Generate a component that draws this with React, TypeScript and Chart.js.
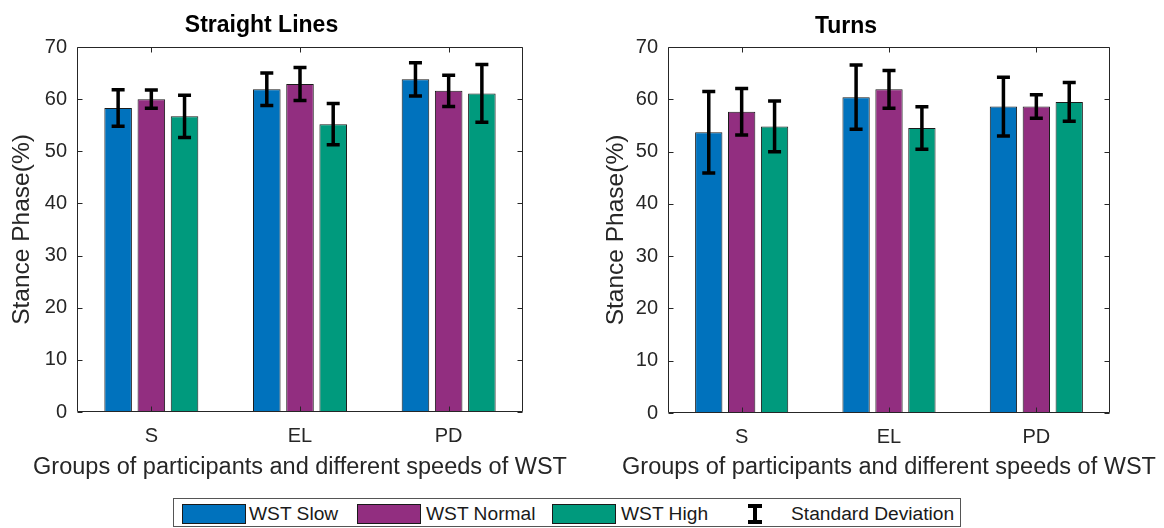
import React, { useEffect, useRef } from 'react';
import { Chart, registerables } from 'chart.js';

Chart.register(...registerables);

// ---------- data ----------
const categories = ['S', 'EL', 'PD'];
const seriesNames = ['WST Slow', 'WST Normal', 'WST High'];
const seriesColors = ['#0072BD', '#922E80', '#009A7D'];
const yTickValues = [0, 10, 20, 30, 40, 50, 60, 70];

const straightSlow = [58.3, 61.9, 63.8];
const straightNormal = [60.0, 62.9, 61.6];
const straightHigh = [56.7, 55.2, 61.1];
const straightSlowSD = [3.5, 3.1, 3.2];
const straightNormalSD = [1.75, 3.15, 3.0];
const straightHighSD = [4.05, 3.95, 5.55];

const turnsSlow = [53.7, 60.4, 58.6];
const turnsNormal = [57.6, 61.9, 58.6];
const turnsHigh = [54.8, 54.5, 59.5];
const turnsSlowSD = [7.8, 6.15, 5.6];
const turnsNormalSD = [4.45, 3.6, 2.25];
const turnsHighSD = [4.85, 4.05, 3.7];

const xAxisTitle = 'Groups of participants and different speeds of WST';
const yAxisTitle = 'Stance Phase(%)';
const legendSD = 'Standard Deviation';

// ---------- style ----------
const FONT = "'Liberation Sans', Arial, Helvetica, sans-serif";
const AXIS_COLOR = '#262626';
const CW = 582;
const CH = 490;
const X_TITLE_SIZE = 23.5;
const X_TITLE_CENTER_Y = 468;

const errorBarsAndFrame = {
  id: 'errorBarsAndFrame',
  afterDatasetsDraw(chart: any) {
    const { ctx, chartArea: a, scales } = chart;
    const ys = scales.y;
    const xs = scales.x;
    ctx.save();
    // error bars
    ctx.strokeStyle = '#000';
    ctx.lineWidth = 3.5;
    ctx.lineCap = 'butt';
    chart.data.datasets.forEach((ds: any, i: number) => {
      const meta = chart.getDatasetMeta(i);
      meta.data.forEach((bar: any, j: number) => {
        const v = ds.data[j];
        const sd = ds.sd[j];
        const x = bar.x;
        const yTop = ys.getPixelForValue(v + sd);
        const yBot = ys.getPixelForValue(v - sd);
        const half = 6.5;
        ctx.beginPath();
        ctx.moveTo(x, yTop);
        ctx.lineTo(x, yBot);
        ctx.moveTo(x - half, yTop);
        ctx.lineTo(x + half, yTop);
        ctx.moveTo(x - half, yBot);
        ctx.lineTo(x + half, yBot);
        ctx.stroke();
      });
    });
    // frame
    ctx.strokeStyle = AXIS_COLOR;
    ctx.lineWidth = 1;
    const l = Math.round(a.left) + 0.5;
    const r = Math.round(a.right) - 0.5;
    const t = Math.round(a.top) + 0.5;
    const b = Math.round(a.bottom) - 0.5;
    ctx.beginPath();
    ctx.rect(l, t, r - l, b - t);
    // inner ticks
    const tl = 5;
    ys.ticks.forEach((tk: any) => {
      const y = Math.round(ys.getPixelForValue(tk.value)) + 0.5;
      ctx.moveTo(l, y);
      ctx.lineTo(l + tl, y);
      ctx.moveTo(r, y);
      ctx.lineTo(r - tl, y);
    });
    categories.forEach((_c, i) => {
      const x = Math.round(xs.getPixelForValue(i)) + 0.5;
      ctx.moveTo(x, b);
      ctx.lineTo(x, b - tl);
      ctx.moveTo(x, t);
      ctx.lineTo(x, t + tl);
    });
    ctx.stroke();
    // x-axis title (drawn here so it is not squeezed to the plot width)
    ctx.fillStyle = AXIS_COLOR;
    ctx.font = `${X_TITLE_SIZE}px ${FONT}`;
    ctx.textAlign = 'center';
    ctx.textBaseline = 'middle';
    ctx.fillText(xAxisTitle, (a.left + a.right) / 2, X_TITLE_CENTER_Y);
    ctx.restore();
  },
};

type Area = { left: number; right: number; top: number; bottom: number };

function BarPanel(props: {
  title: string;
  values: number[][];
  sds: number[][];
  area: Area;
  titleCenter: number;
  yTitleCenter: number;
}) {
  const ref = useRef<HTMLCanvasElement | null>(null);
  useEffect(() => {
    if (!ref.current) return;
    const { area, titleCenter, yTitleCenter } = props;
    const titleSize = 23;
    const titleLH = titleSize * 1.2;
    const titlePadTop = titleCenter - titleLH / 2;
    const titlePadBottom = area.top - titlePadTop - titleLH;
    const axisTitleSize = 24.5;
    const axisTitleLH = axisTitleSize * 1.2;
    const tickSize = 20;
    const chart = new Chart(ref.current, {
      type: 'bar',
      data: {
        labels: categories,
        datasets: props.values.map((vals, i) => ({
          label: seriesNames[i],
          data: vals,
          sd: props.sds[i],
          backgroundColor: seriesColors[i],
          borderColor: '#1a1a1a',
          borderWidth: 1,
          borderSkipped: false,
          categoryPercentage: 0.67,
          barPercentage: 0.83,
        })) as any,
      },
      options: {
        animation: false,
        responsive: false,
        devicePixelRatio: 1,
        events: [],
        layout: { padding: { left: 0, right: CW - area.right, top: 0, bottom: 0 } },
        plugins: {
          legend: { display: false },
          tooltip: { enabled: false },
          title: {
            display: true,
            text: props.title,
            color: '#000',
            font: { family: FONT, size: titleSize, weight: 'bold', lineHeight: 1.2 },
            padding: { top: titlePadTop, bottom: titlePadBottom },
          },
        },
        scales: {
          x: {
            type: 'category',
            offset: true,
            grid: { display: false, drawTicks: false },
            border: { display: false },
            ticks: { color: AXIS_COLOR, font: { family: FONT, size: tickSize }, padding: 12.5 },
            title: { display: false },
            afterFit: (s: any) => {
              s.height = CH - area.bottom;
            },
          },
          y: {
            min: 0,
            max: 70,
            afterBuildTicks: (s: any) => {
              s.ticks = yTickValues.map((v) => ({ value: v }));
            },
            grid: { display: false, drawTicks: false },
            border: { display: false },
            ticks: { color: AXIS_COLOR, font: { family: FONT, size: tickSize }, padding: 10 },
            title: {
              display: true,
              text: yAxisTitle,
              color: AXIS_COLOR,
              font: { family: FONT, size: axisTitleSize, lineHeight: 1.2 },
              padding: { top: yTitleCenter - axisTitleLH / 2, bottom: 0 },
            },
            afterFit: (s: any) => {
              s.width = area.left;
            },
          },
        },
      } as any,
      plugins: [errorBarsAndFrame],
    });
    return () => chart.destroy();
  }, []);
  return <canvas ref={ref} width={CW} height={CH} style={{ display: 'block', width: CW, height: CH }} />;
}

function Swatch(props: { left: number; color: string }) {
  return (
    <div
      style={{
        position: 'absolute',
        left: props.left,
        top: 504,
        width: 64,
        height: 20,
        boxSizing: 'border-box',
        background: props.color,
        border: '1px solid #1a1a1a',
      }}
    />
  );
}

function LegendText(props: { left: number; text: string }) {
  return (
    <div
      style={{
        position: 'absolute',
        left: props.left,
        top: 503,
        height: 22,
        lineHeight: '22px',
        fontSize: 19.2,
        fontFamily: FONT,
        color: '#1a1a1a',
        whiteSpace: 'nowrap',
      }}
    >
      {props.text}
    </div>
  );
}

export default function App() {
  return (
    <div
      style={{
        position: 'fixed',
        left: 0,
        top: 0,
        width: 1164,
        height: 528,
        background: '#fff',
        overflow: 'hidden',
        fontFamily: FONT,
      }}
    >
      <div style={{ position: 'absolute', left: 0, top: 0 }}>
        <BarPanel
          title="Straight Lines"
          values={[straightSlow, straightNormal, straightHigh]}
          sds={[straightSlowSD, straightNormalSD, straightHighSD]}
          area={{ left: 77, right: 523, top: 47, bottom: 412 }}
          titleCenter={26}
          yTitleCenter={22}
        />
      </div>
      <div style={{ position: 'absolute', left: CW, top: 0 }}>
        <BarPanel
          title="Turns"
          values={[turnsSlow, turnsNormal, turnsHigh]}
          sds={[turnsSlowSD, turnsNormalSD, turnsHighSD]}
          area={{ left: 86, right: 528, top: 47, bottom: 413 }}
          titleCenter={27}
          yTitleCenter={34}
        />
      </div>
      {/* legend */}
      <div
        style={{
          position: 'absolute',
          left: 173,
          top: 498,
          width: 788,
          height: 29,
          boxSizing: 'border-box',
          border: '1px solid #555',
          background: '#fff',
        }}
      />
      <Swatch left={182} color={seriesColors[0]} />
      <LegendText left={249} text={seriesNames[0]} />
      <Swatch left={357} color={seriesColors[1]} />
      <LegendText left={426} text={seriesNames[1]} />
      <Swatch left={552} color={seriesColors[2]} />
      <LegendText left={621} text={seriesNames[2]} />
      {/* error bar symbol */}
      <div style={{ position: 'absolute', left: 753, top: 505, width: 4, height: 18, background: '#000' }} />
      <div style={{ position: 'absolute', left: 748, top: 504, width: 14, height: 4, background: '#000' }} />
      <div style={{ position: 'absolute', left: 748, top: 520, width: 14, height: 4, background: '#000' }} />
      <LegendText left={791} text={legendSD} />
    </div>
  );
}
